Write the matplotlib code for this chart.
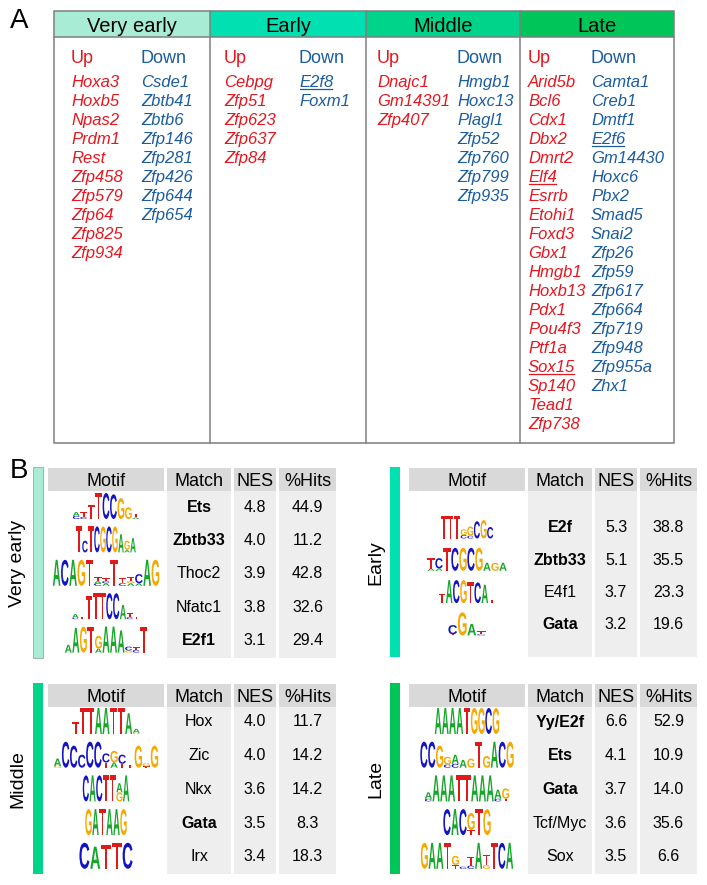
import matplotlib
matplotlib.use("Agg")
import matplotlib.pyplot as plt
from matplotlib.patches import Rectangle, PathPatch
from matplotlib.textpath import TextPath
from matplotlib.font_manager import FontProperties
from matplotlib.transforms import Affine2D

plt.rcParams['font.family'] = ['Liberation Sans', 'DejaVu Sans']

# ---------------- data ----------------
STAGES = ["Very early", "Early", "Middle", "Late"]
STAGE_COLORS = ["#a9ecd6", "#00e0b0", "#00d48a", "#00c65a"]

UP_GENES = [
    ["Hoxa3", "Hoxb5", "Npas2", "Prdm1", "Rest", "Zfp458", "Zfp579", "Zfp64", "Zfp825", "Zfp934"],
    ["Cebpg", "Zfp51", "Zfp623", "Zfp637", "Zfp84"],
    ["Dnajc1", "Gm14391", "Zfp407"],
    ["Arid5b", "Bcl6", "Cdx1", "Dbx2", "Dmrt2", "Elf4", "Esrrb", "Etohi1", "Foxd3", "Gbx1",
     "Hmgb1", "Hoxb13", "Pdx1", "Pou4f3", "Ptf1a", "Sox15", "Sp140", "Tead1", "Zfp738"],
]
DOWN_GENES = [
    ["Csde1", "Zbtb41", "Zbtb6", "Zfp146", "Zfp281", "Zfp426", "Zfp644", "Zfp654"],
    ["E2f8", "Foxm1"],
    ["Hmgb1", "Hoxc13", "Plagl1", "Zfp52", "Zfp760", "Zfp799", "Zfp935"],
    ["Camta1", "Creb1", "Dmtf1", "E2f6", "Gm14430", "Hoxc6", "Pbx2", "Smad5", "Snai2", "Zfp26",
     "Zfp59", "Zfp617", "Zfp664", "Zfp719", "Zfp948", "Zfp955a", "Zhx1"],
]
UNDERLINED = ["E2f8", "Elf4", "Sox15", "E2f6"]

HEADERS = ["Motif", "Match", "NES", "%Hits"]
MATCH = [
    ["Ets", "Zbtb33", "Thoc2", "Nfatc1", "E2f1"],
    ["E2f", "Zbtb33", "E4f1", "Gata"],
    ["Hox", "Zic", "Nkx", "Gata", "Irx"],
    ["Yy/E2f", "Ets", "Gata", "Tcf/Myc", "Sox"],
]
BOLD_MATCH = [
    [1, 1, 0, 0, 1],
    [1, 1, 0, 1],
    [0, 0, 0, 1, 0],
    [1, 1, 1, 0, 0],
]
NES = [
    [4.8, 4.0, 3.9, 3.8, 3.1],
    [5.3, 5.1, 3.7, 3.2],
    [4.0, 4.0, 3.6, 3.5, 3.4],
    [6.6, 4.1, 3.7, 3.6, 3.5],
]
HITS = [
    [44.9, 11.2, 42.8, 32.6, 29.4],
    [38.8, 35.5, 23.3, 19.6],
    [11.7, 14.2, 14.2, 8.3, 18.3],
    [52.9, 10.9, 14.0, 35.6, 6.6],
]
# sequence logos: columns split by spaces, stacked letters (bottom->top) by '/',
# each letter followed by its relative height (1 if omitted)
LOGOS = [
    ["C.12/A.15 C.08/T.2 T.55 T C C.95 G.8 G.45 A.06/T.14",
     "T C.45 T C G C G A.7 A.1/G.35 A.55",
     "A C A G T C.1/A.08/T.15 A.1/C.08/T.12 T C.1/T.2 A.1/G.08/T.15 A.1/C.35 A G",
     "C.05/A.15 T.1 T.9 T T C C A.55 C.08/T.15 T.1",
     "A.3 A.95 G T A.15/G.5 A A A.85 G.08/C.15 C.1/T.1 T"],
    ["T T T C.15/G.25 C.12/G.4 C.75 G.8 C.5",
     "A.1/T.45 A.1/C.45 T C G C G A.35 G.35 A.35",
     "T.4 A C G T.9 C.9 A.8 T.15",
     "T.05/C.4 G A.5 C.05/T.12"],
    ["T.45 T T A A T T A.8 G.05/A.15",
     "G.05/A.3 C C.85 C.5 C C T.2/C.35 A.2/G.45 T.15/C.35 T.12 G.85 T.05/G.12 G.85",
     "C A C T T G.35/A.35 A",
     "G A T A A G",
     "C A.85 T.9 T C"],
    ["A A A A T G G C G",
     "C C G.85 C.12/G.3 C.15/A.35 A.3 G.35 T G.45 A C G",
     "C.1/A.25 A A A T T A A A C.1/A.35 T.1/G.4",
     "C A C T.2/G.65 T G",
     "G A A T T.15/G.35 C.08 C.12/T.35 A G.15/T.4 T C A"],
]

# ---------------- layout (pixel units) ----------------
RED = "#e5161f"
BLUE = "#1b5c9f"
LINE = "#7f7f7f"
LETTER_COLORS = {"A": "#16a62a", "C": "#1414c4", "G": "#f5a900", "T": "#de1a1a"}

A_LEFT, A_RIGHT, A_TOP, A_HEAD, A_BOTTOM = 54, 674, 11, 37, 443
A_DIVS = [54, 210, 366, 520, 674]
UP_X = [71, 224, 377, 528]
DOWN_X = [141, 299, 457, 591]

B_COLS_LEFT = [(48, 164), (167, 231), (234, 276), (279, 336)]
B_SHIFT = [0, 361, 0, 361]
B_HEAD = [(468, 491), (468, 491), (684, 707), (684, 707)]
B_BOTTOM = [658, 657, 874, 874]
B_ROW0 = [506, 527, 721, 721]
B_STEP = [33.4, 32.3, 33.7, 33.7]
BAR_X = [33, 390, 33, 390]
LABEL_X = [18, 376, 18, 376]
LOGO_W = [[67, 60, 107, 68, 83], [53, 80, 57, 38], [68, 105, 47, 42, 54], [65, 94, 85, 48, 93]]
LOGO_UNIT = [26, 23, 26, 26]

fig = plt.figure(figsize=(7.07, 8.85), dpi=100)
ax = fig.add_axes([0, 0, 1, 1])
ax.set_xlim(0, 707)
ax.set_ylim(885, 0)
ax.axis("off")

# ---------------- panel A ----------------
ax.text(19, 21, "A", fontsize=20, ha="center", va="center")
for i, stage in enumerate(STAGES):
    ax.add_patch(Rectangle((A_DIVS[i], A_TOP), A_DIVS[i + 1] - A_DIVS[i], A_HEAD - A_TOP,
                           facecolor=STAGE_COLORS[i], edgecolor="none"))
    ax.text((A_DIVS[i] + A_DIVS[i + 1]) / 2, 31.5, stage, fontsize=14.5, ha="center", va="baseline")
ax.add_patch(Rectangle((A_LEFT, A_TOP), A_RIGHT - A_LEFT, A_BOTTOM - A_TOP,
                       facecolor="none", edgecolor=LINE, lw=1.1))
ax.plot([A_LEFT, A_RIGHT], [A_HEAD, A_HEAD], color=LINE, lw=1.1)
for x in A_DIVS[1:-1]:
    ax.plot([x, x], [A_TOP, A_BOTTOM], color=LINE, lw=1.1)

gene_texts = []
for i in range(4):
    ax.text(UP_X[i], 63, "Up", color=RED, fontsize=13, va="baseline")
    ax.text(DOWN_X[i], 63, "Down", color=BLUE, fontsize=13, va="baseline")
    for j, g in enumerate(UP_GENES[i]):
        t = ax.text(UP_X[i], 87 + 19 * j, g, color=RED, fontsize=12, style="italic", va="baseline")
        gene_texts.append((t, g, RED, 87 + 19 * j))
    for j, g in enumerate(DOWN_GENES[i]):
        t = ax.text(DOWN_X[i], 87 + 19 * j, g, color=BLUE, fontsize=12, style="italic", va="baseline")
        gene_texts.append((t, g, BLUE, 87 + 19 * j))

# ---------------- panel B ----------------
ax.text(19, 471, "B", fontsize=20, ha="center", va="center")

FP = FontProperties(family="Liberation Sans", weight="bold")
_paths = {ch: TextPath((0, 0), ch, size=1, prop=FP) for ch in "ACGT"}


def draw_letter(ch, x, y_bottom, w, h):
    p = _paths[ch]
    e = p.get_extents()
    tr = (Affine2D().translate(-e.x0, -e.y0)
          .scale(w / e.width, -h / e.height).translate(x, y_bottom))
    ax.add_patch(PathPatch(tr.transform_path(p), facecolor=LETTER_COLORS[ch],
                           edgecolor="none"))


def draw_logo(spec, cx, base, width, unit):
    cols = spec.split()
    cw = width / len(cols)
    x = cx - width / 2
    for col in cols:
        y = base
        for item in col.split("/"):
            ch = item[0]
            hgt = float(item[1:]) if len(item) > 1 else 1.0
            draw_letter(ch, x + cw * 0.04, y, cw * 0.92, hgt * unit)
            y -= hgt * unit
        x += cw


for p in range(4):
    sx = B_SHIFT[p]
    top, hb = B_HEAD[p]
    bottom = B_BOTTOM[p]
    # side bar and stage label
    ax.add_patch(Rectangle((BAR_X[p], top - 1), 10, bottom - top + 1,
                           facecolor=STAGE_COLORS[p], edgecolor="#9aa8a4" if p == 0 else "none", lw=0.6))
    ax.text(LABEL_X[p], (top + bottom) / 2, STAGES[p], fontsize=14, rotation=90,
            ha="center", va="center")
    for k, (x0, x1) in enumerate(B_COLS_LEFT):
        ax.add_patch(Rectangle((x0 + sx, top), x1 - x0, hb - top, facecolor="#d9d9d9", edgecolor="none"))
        if k > 0:
            ax.add_patch(Rectangle((x0 + sx, hb), x1 - x0, bottom - hb, facecolor="#eeeeee", edgecolor="none"))
        ax.text((x0 + x1) / 2 + sx, (top + hb) / 2 + 6.5, HEADERS[k], fontsize=13,
                ha="center", va="baseline")
    cxs = [(x0 + x1) / 2 + sx for x0, x1 in B_COLS_LEFT]
    for r in range(len(MATCH[p])):
        y = B_ROW0[p] + B_STEP[p] * r
        draw_logo(LOGOS[p][r], cxs[0], y + LOGO_UNIT[p] / 2, LOGO_W[p][r], LOGO_UNIT[p])
        ax.text(cxs[1], y + 5.5, MATCH[p][r], fontsize=11.5, ha="center", va="baseline",
                fontweight="bold" if BOLD_MATCH[p][r] else "normal")
        ax.text(cxs[2], y + 5.5, f"{NES[p][r]:.1f}", fontsize=11.5, ha="center", va="baseline")
        ax.text(cxs[3], y + 5.5, f"{HITS[p][r]:.1f}", fontsize=11.5, ha="center", va="baseline")

# underline selected gene names
fig.canvas.draw()
renderer = fig.canvas.get_renderer()
inv = ax.transData.inverted()
for t, g, c, yb in gene_texts:
    if g in UNDERLINED:
        bb = t.get_window_extent(renderer)
        (xa, _), (xb, _) = inv.transform([(bb.x0, bb.y0), (bb.x1, bb.y0)])
        ax.plot([xa + 1, xb - 1], [yb + 1.8, yb + 1.8], color=c, lw=0.9)

fig.savefig("out.png", dpi=100)
